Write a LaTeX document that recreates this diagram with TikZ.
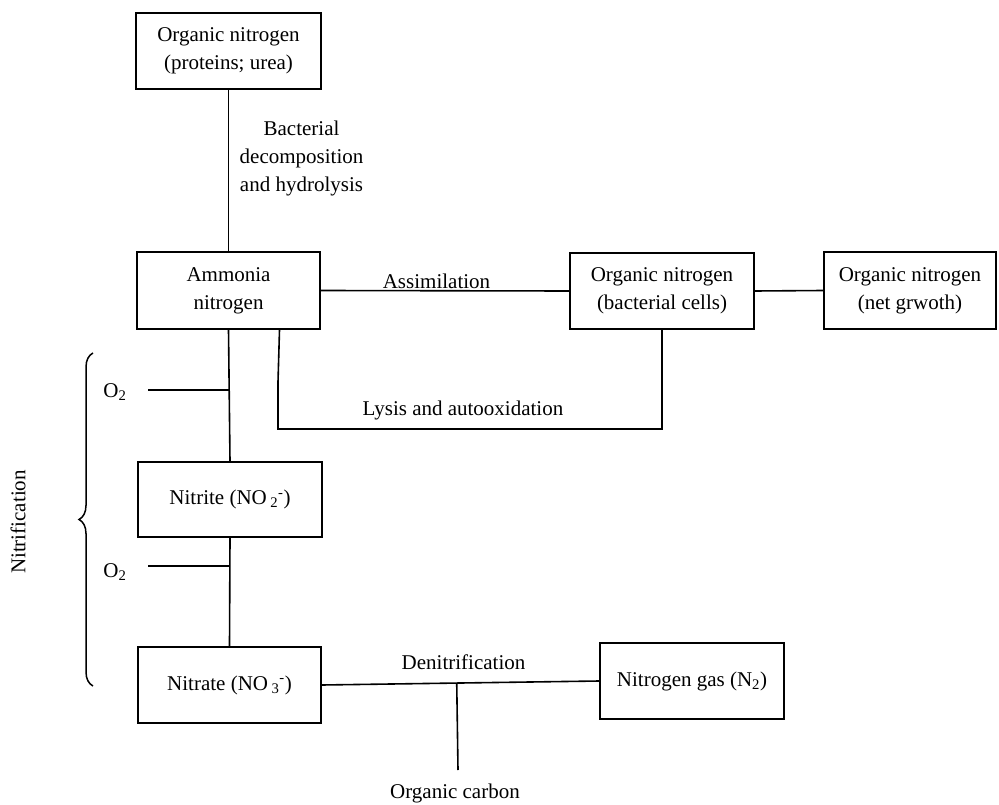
\documentclass[tikz,border=0pt]{standalone}
\usepackage{fontspec}
\setmainfont{Liberation Serif}
\usepackage{tikz}
\usetikzlibrary{positioning,calc}
\usetikzlibrary{decorations.pathreplacing}
\tikzstyle{box} = [rectangle,draw,line width=1.6pt,align=center,inner sep=2pt]
\tikzstyle{link} = [line width=1.6pt]

\begin{document}
\begin{tikzpicture}[x=1pt,y=-1pt,font=\fontsize{21}{28}\selectfont]
        \useasboundingbox (0,0) rectangle (999,805);
        \node[box,minimum width=185pt,minimum height=76pt] (orgN) at (228.5,51) {Organic nitrogen\\(proteins; urea)};
        \node[box,minimum width=183pt,minimum height=77pt] (ammonia) at (228.5,290.5) {Ammonia\\nitrogen};
        \node[box,minimum width=184pt,minimum height=76pt] (cells) at (662,291) {Organic nitrogen\\(bacterial cells)};
        \node[box,minimum width=172pt,minimum height=77pt] (growth) at (910,290.5) {Organic nitrogen\\(net grwoth)};
        \node[box,minimum width=184pt,minimum height=75pt] (nitrite) at (230,499.5) {Nitrite (NO\,\textsubscript{2}\textsuperscript{-})};
        \node[box,minimum width=183pt,minimum height=76pt] (nitrate) at (229.5,685) {Nitrate (NO\,\textsubscript{3}\textsuperscript{-})};
        \node[box,minimum width=184pt,minimum height=76pt] (gas) at (692,681) {Nitrogen gas (N\textsubscript{2})};
        \draw[link] (orgN) -- (ammonia);
        \node[align=center] (hydro) at ($(orgN)+(73,107)$) {Bacterial\\decomposition\\and hydrolysis};
        \draw[link] (ammonia.east) -- (cells.west);
        \node (assim) at ($(ammonia)+(208,-9)$) {Assimilation};
        \draw[link] (cells.east) -- (growth.west);
        \coordinate (lysis) at (278,429);
        \draw[link] ($(ammonia.south)+(51,0)$) -- ($(lysis)+(0,-47)$) -- (lysis) -| (cells.south);
        \node (lysislbl) at ($(lysis)+(185,-19)$) {Lysis and autooxidation};
        \draw[link] (ammonia.south) -- (nitrite.north);
        \draw[link] (nitrite.south) -- (nitrate.north);
        \coordinate (oxA) at (148,390);
        \coordinate (oxB) at (148,566);
        \draw[link] (oxA) -- (oxA -| ammonia.south);
        \draw[link] (oxB) -- (oxB -| nitrite.south);
        \node (oxAlbl) at ($(oxA)+(-33,2)$) {O\textsubscript{2}};
        \node (oxBlbl) at ($(oxB)+(-33,6)$) {O\textsubscript{2}};
        \draw[link,line width=1.5pt,decorate,decoration={brace,amplitude=14pt}] (93,686) -- (93,353);
        \node[rotate=90] (nitri) at (18,522) {Nitrification};
        \draw[link] (nitrate.east) -- (gas.west);
        \node (denit) at ($(nitrate)+(234,-23)$) {Denitrification};
        \coordinate (carbon) at (458,770);
        \draw[link] (carbon) -- ($(nitrate.east)!(carbon)!(gas.west)$);
        \node (carbonlbl) at ($(carbon)+(-3,23)$) {Organic carbon};
\end{tikzpicture}
\end{document}
